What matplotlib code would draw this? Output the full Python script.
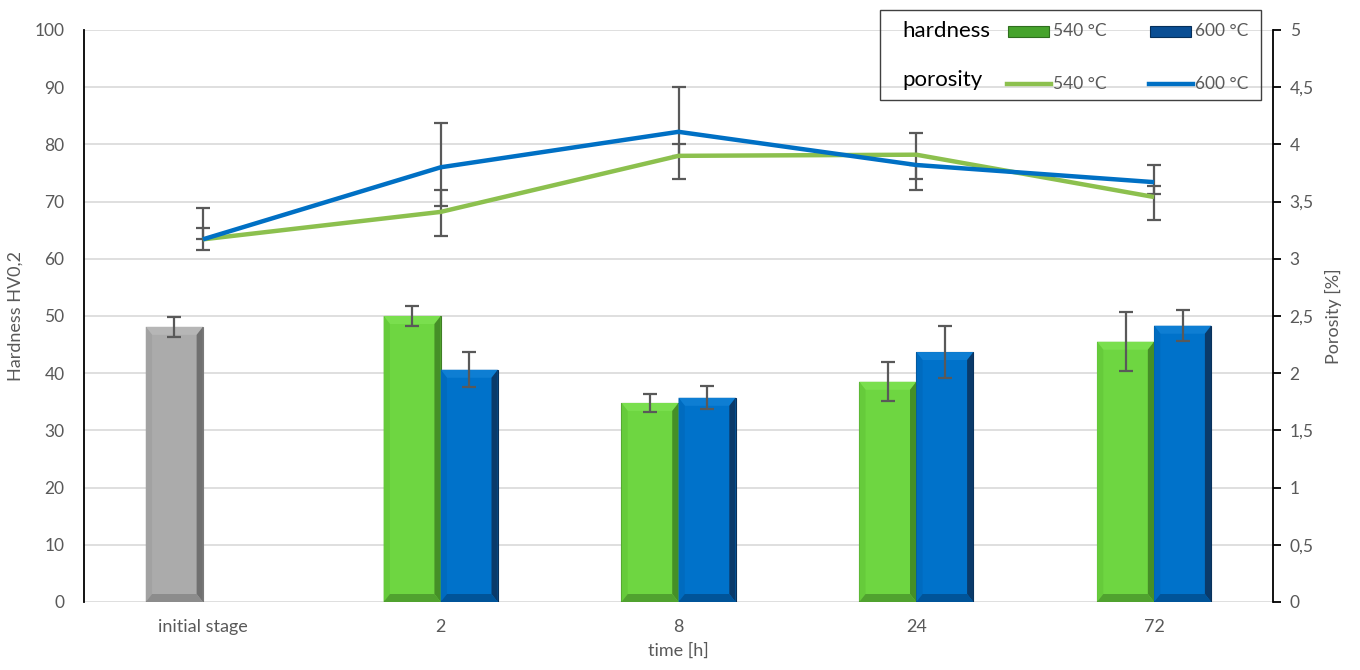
import numpy as np
import matplotlib.pyplot as plt
from matplotlib.patches import Polygon, Rectangle
from matplotlib.lines import Line2D
from matplotlib.ticker import FuncFormatter

plt.rcParams['font.family'] = ['Lato', 'DejaVu Sans']

categories = ["initial stage", "2", "8", "24", "72"]

# hardness HV0,2 (bars)
hard_initial = 48.1
hard_initial_err = 1.7
hard_540 = [50.0, 34.8, 38.5, 45.5]
hard_540_err = [1.7, 1.65, 3.4, 5.2]
hard_600 = [40.6, 35.7, 43.7, 48.3]
hard_600_err = [3.1, 2.0, 4.5, 2.7]

# porosity [%] (lines), asymmetric error bars (down, up)
por_540 = [3.17, 3.41, 3.90, 3.91, 3.54]
por_540_dn = [0.09, 0.21, 0.0, 0.21, 0.20]
por_540_up = [0.10, 0.19, 0.10, 0.19, 0.10]
por_600 = [3.17, 3.80, 4.11, 3.82, 3.67]
por_600_dn = [0.0, 0.34, 0.41, 0.22, 0.10]
por_600_up = [0.27, 0.39, 0.39, 0.0, 0.15]

grey = "#595959"
err_col = "#595959"

fig = plt.figure(figsize=(13.6, 6.7), dpi=100)
ax = fig.add_axes([84 / 1360, 1 - 602 / 670, (1273 - 84) / 1360, (602 - 30) / 670])
ax2 = ax.twinx()

x = np.arange(len(categories))
w = 0.24


def bevel(ax, bars, light, dark, side, bottom):
    # fake Excel bevel look from the bar geometry
    px_y = 100 / 572.0
    for b in bars:
        x0, y0 = b.get_x(), b.get_y()
        bw, bh = b.get_width(), b.get_height()
        dx = bw * 0.11
        dy = 8 * px_y
        ax.add_patch(Polygon([[x0, y0 + bh], [x0 + bw, y0 + bh], [x0 + bw - dx, y0 + bh - dy],
                              [x0 + dx, y0 + bh - dy]], closed=True, fc=light, ec="none", zorder=3))
        ax.add_patch(Polygon([[x0 + bw, y0], [x0 + bw, y0 + bh], [x0 + bw - dx, y0 + bh - dy],
                              [x0 + bw - dx, y0 + dy]], closed=True, fc=dark, ec="none", zorder=3))
        ax.add_patch(Polygon([[x0, y0], [x0, y0 + bh], [x0 + dx, y0 + bh - dy],
                              [x0 + dx, y0 + dy]], closed=True, fc=side, ec="none", zorder=3))
        ax.add_patch(Polygon([[x0, y0], [x0 + bw, y0], [x0 + bw - dx, y0 + dy],
                              [x0 + dx, y0 + dy]], closed=True, fc=bottom, ec="none", zorder=3))


b0 = ax.bar(x[0] - w / 2, hard_initial, w, color="#ABABAB", edgecolor="#7A7A7A", lw=0.8, zorder=2)
b1 = ax.bar(x[1:] - w / 2, hard_540, w, color="#6ED641", edgecolor="#3F7F25", lw=0.8, zorder=2)
b2 = ax.bar(x[1:] + w / 2, hard_600, w, color="#0072CA", edgecolor="#08305A", lw=0.8, zorder=2)
bevel(ax, b0, "#B6B6B6", "#707070", "#A2A2A2", "#8C8C8C")
bevel(ax, b1, "#7ADF4E", "#458F27", "#66CB3B", "#50A22F")
bevel(ax, b2, "#0E7ED3", "#0A3A6A", "#006BBF", "#005499")

ax.errorbar(x[0] - w / 2, hard_initial, yerr=hard_initial_err, fmt="none", ecolor=err_col,
            elinewidth=1.6, capsize=5, capthick=1.6, zorder=4)
ax.errorbar(x[1:] - w / 2, hard_540, yerr=hard_540_err, fmt="none", ecolor=err_col,
            elinewidth=1.6, capsize=5, capthick=1.6, zorder=4)
ax.errorbar(x[1:] + w / 2, hard_600, yerr=hard_600_err, fmt="none", ecolor=err_col,
            elinewidth=1.6, capsize=5, capthick=1.6, zorder=4)

ax2.errorbar(x, por_540, yerr=[por_540_dn, por_540_up], fmt="none", ecolor=err_col,
             elinewidth=1.6, capsize=5, capthick=1.6, zorder=2)
ax2.errorbar(x, por_600, yerr=[por_600_dn, por_600_up], fmt="none", ecolor=err_col,
             elinewidth=1.6, capsize=5, capthick=1.6, zorder=2)
ax2.plot(x, por_540, color="#8CC04E", lw=3.2, zorder=3, solid_capstyle="butt")
ax2.plot(x, por_600, color="#0070C4", lw=3.2, zorder=3, solid_capstyle="butt")

ax.set_xlim(-0.5, len(categories) - 0.5)
ax.set_ylim(0, 100)
ax.set_yticks(np.arange(0, 101, 10))
ax2.set_ylim(0, 5)
ax2.set_yticks(np.arange(0, 5.01, 0.5))
ax2.yaxis.set_major_formatter(FuncFormatter(lambda v, p: ("%g" % v).replace(".", ",")))

ax.set_xticks(x)
ax.set_xticklabels(categories)
ax.grid(axis="y", color="#D9D9D9", lw=1.2, zorder=0)
ax.set_axisbelow(True)

for s in ["top", "right", "bottom"]:
    ax.spines[s].set_visible(False)
for s in ["top", "left", "bottom"]:
    ax2.spines[s].set_visible(False)
ax.spines["left"].set_color("black")
ax.spines["left"].set_linewidth(1.3)
ax2.spines["right"].set_color("black")
ax2.spines["right"].set_linewidth(1.3)

ax.tick_params(axis="y", length=0, labelsize=12.5, labelcolor=grey, pad=14)
ax.tick_params(axis="x", length=0, labelsize=13, labelcolor=grey, pad=12)
ax2.tick_params(axis="y", length=6, width=1.3, color="black", labelsize=12.5, labelcolor=grey, pad=6)

ax.set_ylabel("Hardness HV0,2", fontsize=13, color=grey, labelpad=8)
ax2.set_ylabel("Porosity [%]", fontsize=13, color=grey, labelpad=8)
ax.set_xlabel("time [h]", fontsize=13, color=grey, labelpad=6)

# legend box
fig.patches.append(Rectangle((880 / 1360, 1 - 100 / 670), 381 / 1360, 90 / 670, transform=fig.transFigure,
                             fill=False, ec="#404040", lw=1.0))


def fx(px):
    return px / 1360


def fy(py):
    return 1 - py / 670


fig.text(fx(902), fy(31), "hardness", fontsize=16, color="black", va="center")
fig.text(fx(902), fy(80), "porosity", fontsize=16, color="black", va="center")
fig.patches.append(Rectangle((fx(1008), fy(37)), 41 / 1360, 11 / 670, transform=fig.transFigure,
                             fc="#46A32C", ec="#2F6E1E", lw=0.8))
fig.patches.append(Rectangle((fx(1150), fy(37)), 41 / 1360, 11 / 670, transform=fig.transFigure,
                             fc="#0A4E94", ec="#062F5A", lw=0.8))
fig.lines.append(Line2D([fx(1007), fx(1051)], [fy(84), fy(84)], transform=fig.transFigure,
                        color="#8CC04E", lw=3.2))
fig.lines.append(Line2D([fx(1149), fx(1193)], [fy(84), fy(84)], transform=fig.transFigure,
                        color="#0070C4", lw=3.2))
for xx, yy, t in [(1053, 31, "540 °C"), (1195, 31, "600 °C"), (1053, 84, "540 °C"), (1195, 84, "600 °C")]:
    fig.text(fx(xx), fy(yy), t, fontsize=12.5, color=grey, va="center")

fig.savefig("out.png", dpi=100)
